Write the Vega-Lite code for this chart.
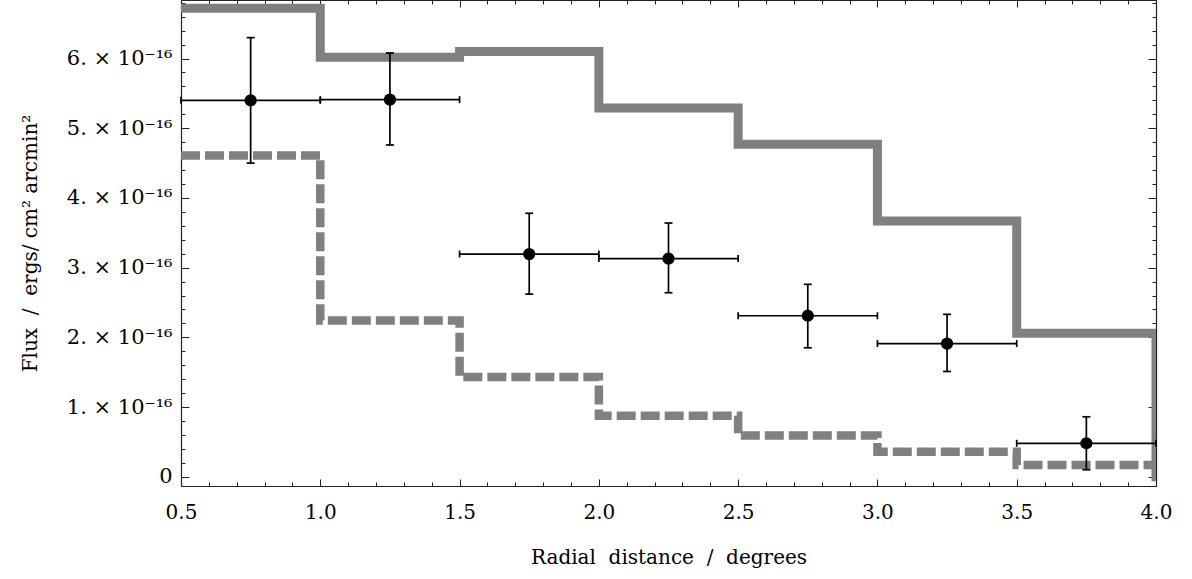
{
  "$schema": "https://vega.github.io/schema/vega-lite/v6.json",
  "width": 975,
  "height": 486,
  "autosize": "none",
  "padding": {"left": 181, "top": 0, "right": 36, "bottom": 93},
  "config": {
    "view": {"stroke": null},
    "axis": {
      "grid": false,
      "labelFont": "DejaVu Serif",
      "titleFont": "DejaVu Serif",
      "labelFontSize": 20,
      "titleFontSize": 20,
      "titleFontWeight": "normal",
      "labelColor": "black",
      "titleColor": "black",
      "tickColor": "#222222",
      "domainColor": "#222222",
      "tickWidth": 1,
      "domainWidth": 1.2,
      "zindex": 1
    }
  },
  "datasets": {
    "solid": [
      {"x": 0.5, "y": 6.72e-16},
      {"x": 1.0, "y": 6.02e-16},
      {"x": 1.5, "y": 6.10e-16},
      {"x": 2.0, "y": 5.29e-16},
      {"x": 2.5, "y": 4.77e-16},
      {"x": 3.0, "y": 3.67e-16},
      {"x": 3.5, "y": 2.06e-16},
      {"x": 4.0, "y": 0}
    ],
    "dashed": [
      {"x": 0.5, "y": 4.61e-16},
      {"x": 1.0, "y": 2.24e-16},
      {"x": 1.5, "y": 1.43e-16},
      {"x": 2.0, "y": 0.875e-16},
      {"x": 2.5, "y": 0.59e-16},
      {"x": 3.0, "y": 0.36e-16},
      {"x": 3.5, "y": 0.17e-16},
      {"x": 4.0, "y": 0.17e-16}
    ],
    "pts": [
      {"x": 0.75, "xlo": 0.5, "xhi": 1.0, "y": 5.40e-16, "ylo": 4.50e-16, "yhi": 6.30e-16},
      {"x": 1.25, "xlo": 1.0, "xhi": 1.5, "y": 5.41e-16, "ylo": 4.76e-16, "yhi": 6.08e-16},
      {"x": 1.75, "xlo": 1.5, "xhi": 2.0, "y": 3.195e-16, "ylo": 2.62e-16, "yhi": 3.78e-16},
      {"x": 2.25, "xlo": 2.0, "xhi": 2.5, "y": 3.13e-16, "ylo": 2.64e-16, "yhi": 3.64e-16},
      {"x": 2.75, "xlo": 2.5, "xhi": 3.0, "y": 2.31e-16, "ylo": 1.85e-16, "yhi": 2.76e-16},
      {"x": 3.25, "xlo": 3.0, "xhi": 3.5, "y": 1.91e-16, "ylo": 1.51e-16, "yhi": 2.33e-16},
      {"x": 3.75, "xlo": 3.5, "xhi": 4.0, "y": 0.48e-16, "ylo": 0.10e-16, "yhi": 0.86e-16}
    ]
  },
  "layer": [
    {
      "data": {"name": "solid"},
      "mark": {"type": "line", "interpolate": "step-after", "color": "#808080", "strokeWidth": 9, "clip": true, "strokeCap": "square"},
      "encoding": {
        "x": {"field": "x", "type": "quantitative", "scale": {"domain": [0.5, 4], "nice": false, "zero": false},
          "axis": {"orient": "bottom", "values": [0.5, 1, 1.5, 2, 2.5, 3, 3.5, 4], "format": ".1f", "tickSize": -7, "labelPadding": 23, "labelFlush": false, "labelOverlap": false, "title": "Radial\u00a0\u00a0distance\u00a0\u00a0/\u00a0\u00a0degrees", "titlePadding": 25}},
        "y": {"field": "y", "type": "quantitative", "scale": {"domain": [-1.33e-17, 6.84e-16], "nice": false, "zero": false},
          "axis": {"orient": "left", "values": [0, 1e-16, 2e-16, 3e-16, 4e-16, 5e-16, 6e-16], "labelExpr": "datum.value == 0 ? '0' : format(datum.value * 1e16, '.0f') + '. × 10⁻¹⁶'", "labelFontSize": 21, "tickSize": -8, "labelPadding": 17, "labelOverlap": false, "labelFlush": false, "title": "Flux\u00a0\u00a0/\u00a0\u00a0ergs/\u00a0cm²\u00a0arcmin²", "titlePadding": 26}}
      }
    },
    {
      "data": {"name": "dashed"},
      "mark": {"type": "line", "interpolate": "step-after", "color": "#808080", "strokeWidth": 8.5, "strokeDash": [19, 5], "clip": true},
      "encoding": {
        "x": {"field": "x", "type": "quantitative", "scale": {"domain": [0.5, 4], "nice": false, "zero": false},
          "axis": {"orient": "top", "values": [0.5, 1, 1.5, 2, 2.5, 3, 3.5, 4], "tickSize": -7, "labels": false, "title": null}},
        "y": {"field": "y", "type": "quantitative", "scale": {"domain": [-1.33e-17, 6.84e-16], "nice": false, "zero": false},
          "axis": {"orient": "right", "values": [0, 1e-16, 2e-16, 3e-16, 4e-16, 5e-16, 6e-16], "tickSize": -8, "labels": false, "title": null}}
      }
    },
    {
      "data": {"name": "pts"},
      "mark": {"type": "rule", "color": "black", "strokeWidth": 1.7},
      "encoding": {
        "x": {"field": "xlo", "type": "quantitative", "scale": {"domain": [0.5, 4], "nice": false, "zero": false},
          "axis": {"orient": "bottom", "values": [0.6, 0.7, 0.8, 0.9, 1.1, 1.2, 1.3, 1.4, 1.6, 1.7, 1.8, 1.9, 2.1, 2.2, 2.3, 2.4, 2.6, 2.7, 2.8, 2.9, 3.1, 3.2, 3.3, 3.4, 3.6, 3.7, 3.8, 3.9], "tickSize": -4, "labels": false, "domain": false, "title": null}},
        "x2": {"field": "xhi"},
        "y": {"field": "y", "type": "quantitative", "scale": {"domain": [-1.33e-17, 6.84e-16], "nice": false, "zero": false},
          "axis": {"orient": "left", "values": [2e-17, 4e-17, 6e-17, 8e-17, 1.2e-16, 1.4e-16, 1.6e-16, 1.8e-16, 2.2e-16, 2.4e-16, 2.6e-16, 2.8e-16, 3.2e-16, 3.4e-16, 3.6e-16, 3.8e-16, 4.2e-16, 4.4e-16, 4.6e-16, 4.8e-16, 5.2e-16, 5.4e-16, 5.6e-16, 5.8e-16, 6.2e-16, 6.4e-16, 6.6e-16, 6.8e-16], "tickSize": -4, "labels": false, "domain": false, "title": null}}
      }
    },
    {
      "data": {"name": "pts"},
      "mark": {"type": "rule", "color": "black", "strokeWidth": 1.7},
      "encoding": {
        "x": {"field": "x", "type": "quantitative", "scale": {"domain": [0.5, 4], "nice": false, "zero": false},
          "axis": {"orient": "top", "values": [0.6, 0.7, 0.8, 0.9, 1.1, 1.2, 1.3, 1.4, 1.6, 1.7, 1.8, 1.9, 2.1, 2.2, 2.3, 2.4, 2.6, 2.7, 2.8, 2.9, 3.1, 3.2, 3.3, 3.4, 3.6, 3.7, 3.8, 3.9], "tickSize": -4, "labels": false, "domain": false, "title": null}},
        "y": {"field": "ylo", "type": "quantitative", "scale": {"domain": [-1.33e-17, 6.84e-16], "nice": false, "zero": false},
          "axis": {"orient": "right", "values": [2e-17, 4e-17, 6e-17, 8e-17, 1.2e-16, 1.4e-16, 1.6e-16, 1.8e-16, 2.2e-16, 2.4e-16, 2.6e-16, 2.8e-16, 3.2e-16, 3.4e-16, 3.6e-16, 3.8e-16, 4.2e-16, 4.4e-16, 4.6e-16, 4.8e-16, 5.2e-16, 5.4e-16, 5.6e-16, 5.8e-16, 6.2e-16, 6.4e-16, 6.6e-16, 6.8e-16], "tickSize": -4, "labels": false, "domain": false, "title": null}},
        "y2": {"field": "yhi"}
      }
    },
    {
      "data": {"name": "pts"},
      "transform": [{"fold": ["xlo", "xhi"], "as": ["k", "xv"]}],
      "mark": {"type": "tick", "orient": "vertical", "color": "black", "size": 7, "thickness": 1.7, "opacity": 1},
      "encoding": {
        "x": {"field": "xv", "type": "quantitative", "scale": {"domain": [0.5, 4], "nice": false, "zero": false}, "axis": null},
        "y": {"field": "y", "type": "quantitative", "scale": {"domain": [-1.33e-17, 6.84e-16], "nice": false, "zero": false}, "axis": null}
      }
    },
    {
      "data": {"name": "pts"},
      "transform": [{"fold": ["ylo", "yhi"], "as": ["k", "yv"]}],
      "mark": {"type": "tick", "orient": "horizontal", "color": "black", "size": 8, "thickness": 1.7, "opacity": 1},
      "encoding": {
        "x": {"field": "x", "type": "quantitative", "scale": {"domain": [0.5, 4], "nice": false, "zero": false}, "axis": null},
        "y": {"field": "yv", "type": "quantitative", "scale": {"domain": [-1.33e-17, 6.84e-16], "nice": false, "zero": false}, "axis": null}
      }
    },
    {
      "data": {"name": "pts"},
      "mark": {"type": "circle", "color": "black", "size": 150, "opacity": 1},
      "encoding": {
        "x": {"field": "x", "type": "quantitative", "scale": {"domain": [0.5, 4], "nice": false, "zero": false}, "axis": null},
        "y": {"field": "y", "type": "quantitative", "scale": {"domain": [-1.33e-17, 6.84e-16], "nice": false, "zero": false}, "axis": null}
      }
    }
  ],
  "resolve": {"axis": {"x": "independent", "y": "independent"}}
}
